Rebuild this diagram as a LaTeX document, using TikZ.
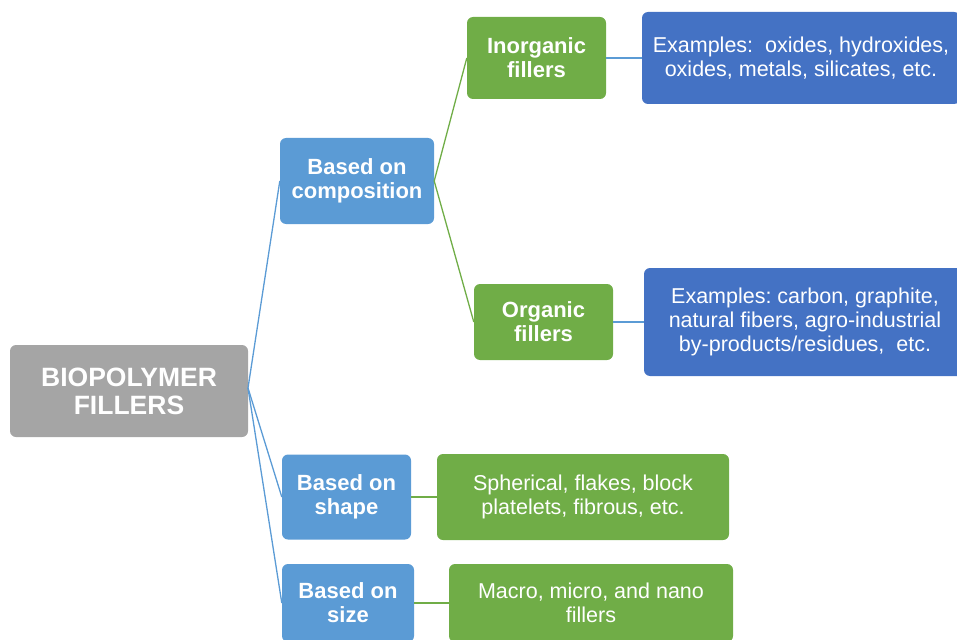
\documentclass[tikz,border=0pt]{standalone}
\usepackage{fontspec}
\setmainfont{Liberation Sans}
\definecolor{rootgray}{HTML}{A5A5A5}
\definecolor{lblue}{HTML}{5B9BD5}
\definecolor{lgreen}{HTML}{70AD47}
\definecolor{dblue}{HTML}{4472C4}
\tikzset{
  boxbase/.style={rectangle, rounded corners=6pt, text=white, align=center, inner sep=0pt, draw=none},
  rootbox/.style={boxbase, fill=rootgray, font=\bfseries\fontsize{26.5}{28}\selectfont},
  catbox/.style={boxbase, fill=lblue, font=\bfseries\fontsize{22}{24}\selectfont},
  subbox/.style={boxbase, fill=lgreen, font=\bfseries\fontsize{22}{24}\selectfont},
  exbox/.style={boxbase, fill=dblue, font=\fontsize{21.5}{24}\selectfont},
  gexbox/.style={boxbase, fill=lgreen, font=\fontsize{21.5}{24}\selectfont},
  bline/.style={draw=lblue, line width=1.3pt},
  gline/.style={draw=lgreen, line width=1.3pt},
}
\begin{document}
\begin{tikzpicture}[x=1pt,y=-1pt]
\useasboundingbox (0,0) rectangle (957,639);
\clip (0,0) rectangle (957,639);
% nodes
\node[rootbox, minimum width=238pt, minimum height=92pt] (root) at (129,391) {BIOPOLYMER\\FILLERS};
\node[catbox, minimum width=154pt, minimum height=86pt] (comp) at (357,181) {Based on\\composition};
\node[subbox, minimum width=139pt, minimum height=82pt] (inorg) at (536.5,58) {Inorganic\\fillers};
\node[exbox, minimum width=318pt, minimum height=92pt] (inorgex) at (801,58) {Examples:\ \ oxides, hydroxides,\\oxides, metals, silicates, etc.};
\node[subbox, minimum width=139pt, minimum height=76pt] (org) at (543.5,322) {Organic\\fillers};
\node[exbox, minimum width=322pt, minimum height=108pt] (orgex) at (805,322) {Examples:\ carbon, graphite,\\natural fibers, agro-industrial\\by-products/residues,\ \ etc.};
\node[catbox, minimum width=129pt, minimum height=85pt] (shape) at (346.5,497) {Based on\\shape};
\node[gexbox, minimum width=292pt, minimum height=86pt] (shapeex) at (583,497) {Spherical, flakes, block\\platelets, fibrous, etc.};
\node[catbox, minimum width=132pt, minimum height=78pt] (size) at (348,603) {Based on\\size};
\node[gexbox, minimum width=284pt, minimum height=78pt] (sizeex) at (591,603) {Macro, micro, and nano\\fillers};
% connectors
\coordinate (rj) at (248,388);
\draw[bline] (rj) -- (comp.west);
\draw[bline] (rj) -- (shape.west);
\draw[bline] (rj) -- (size.west);
\draw[gline] (comp.east) -- (inorg.west);
\draw[gline] (comp.east) -- (org.west);
\draw[bline] (inorg.east) -- (inorgex.west);
\draw[bline] (org.east) -- (orgex.west);
\draw[gline] (shape.east) -- (shapeex.west);
\draw[gline] (size.east) -- (sizeex.west);
\end{tikzpicture}
\end{document}
